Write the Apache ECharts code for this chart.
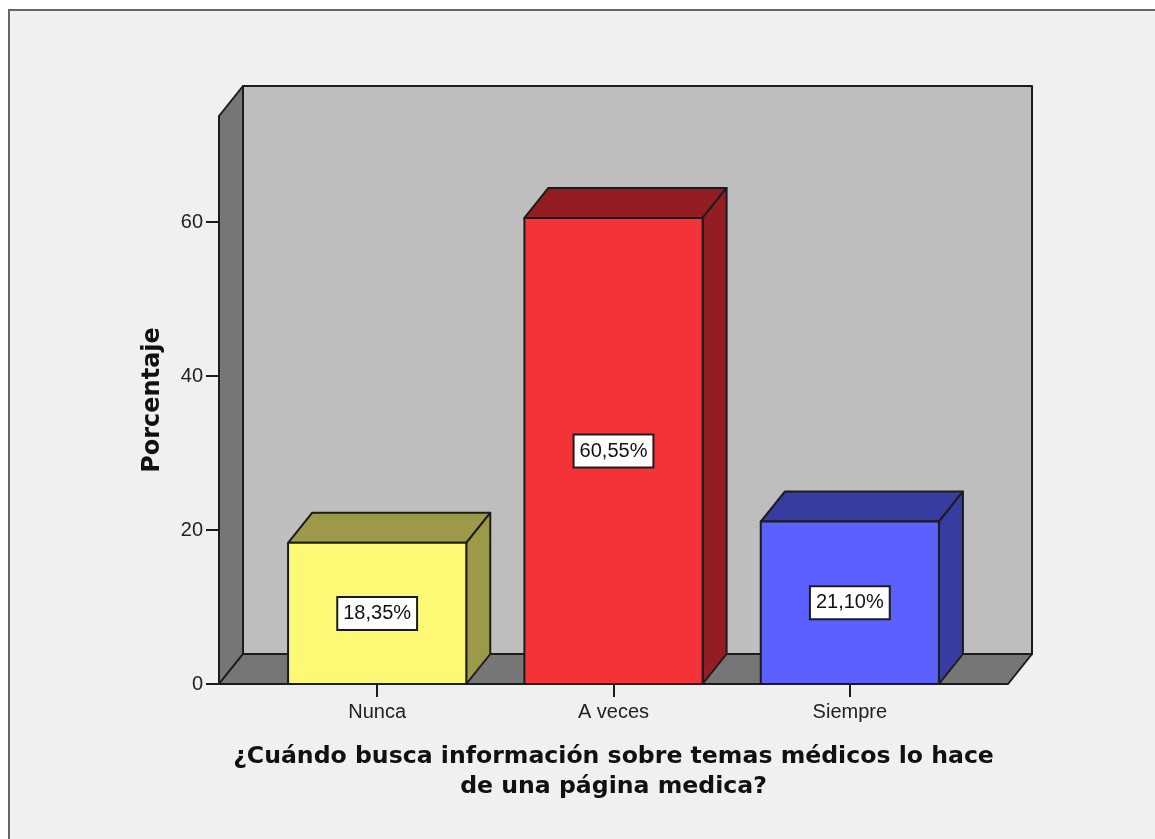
<!DOCTYPE html>
<html>
<head>
<meta charset="utf-8">
<title>Porcentaje</title>
<script src="https://cdn.jsdelivr.net/npm/echarts@6/dist/echarts.min.js"></script>
<style>
html, body { margin: 0; padding: 0; background: #fff; }
#main { width: 1155px; height: 839px; }
</style>
</head>
<body>
<div id="main"></div>
<script>
var categories = ['Nunca', 'A veces', 'Siempre'];
var percents = [18.35, 60.55, 21.10];
var yTicks = [0, 20, 40, 60];
var yTop = 73.8;

// front, dark (top and side)
var barColors = [
    ['#fdf975', '#9c9a48'],
    ['#f33338', '#931d23'],
    ['#5c60ff', '#383b9f']
];
var lineColor = '#1c1c1c';
var depthX = 24;
var depthY = 30;
var floorPad = 40;

var myChart = echarts.init(document.getElementById('main'));

function pct(v) {
    return v.toFixed(2).replace('.', ',') + '%';
}

function renderBackdrop(params, api) {
    var r = params.coordSys;
    var x0 = r.x - floorPad, x1 = r.x + r.width + floorPad;
    var y0 = r.y + r.height, yt = r.y;
    var st = {stroke: lineColor, lineWidth: 2, lineJoin: 'round'};
    return {
        type: 'group',
        children: [
            {type: 'rect', shape: {x: x0 + depthX, y: yt - depthY, width: x1 - x0, height: y0 - yt},
                style: Object.assign({fill: '#bebebe'}, st)},
            {type: 'polygon', shape: {points: [[x0, yt], [x0 + depthX, yt - depthY], [x0 + depthX, y0 - depthY], [x0, y0]]},
                style: Object.assign({fill: '#767676'}, st)},
            {type: 'polygon', shape: {points: [[x0, y0], [x0 + depthX, y0 - depthY], [x1 + depthX, y0 - depthY], [x1, y0]]},
                style: Object.assign({fill: '#767676'}, st)}
        ]
    };
}

function renderBar(params, api) {
    var i = params.dataIndex;
    var v = api.value(1);
    var top = api.coord([api.value(0), v]);
    var base = api.coord([api.value(0), 0]);
    var half = api.size([1, 0])[0] * 0.754 / 2;
    var l = top[0] - half, r = top[0] + half;
    var st = {stroke: lineColor, lineWidth: 2, lineJoin: 'round'};
    var c = barColors[i];
    return {
        type: 'group',
        children: [
            {type: 'polygon', shape: {points: [[l, top[1]], [l + depthX, top[1] - depthY], [r + depthX, top[1] - depthY], [r, top[1]]]},
                style: Object.assign({fill: c[1]}, st)},
            {type: 'polygon', shape: {points: [[r, top[1]], [r + depthX, top[1] - depthY], [r + depthX, base[1] - depthY], [r, base[1]]]},
                style: Object.assign({fill: c[1]}, st)},
            {type: 'rect', shape: {x: l, y: top[1], width: r - l, height: base[1] - top[1]},
                style: Object.assign({fill: c[0]}, st)},
            {type: 'text', z2: 10, style: {
                x: top[0], y: (top[1] + base[1]) / 2,
                text: pct(v), align: 'center', verticalAlign: 'middle',
                font: '20px "Liberation Sans"', fill: '#111',
                backgroundColor: '#fff', borderColor: lineColor, borderWidth: 2,
                padding: [7, 5, 4, 5]
            }}
        ]
    };
}

var option = {
    animation: false,
    textStyle: {fontFamily: 'Liberation Sans'},
    graphic: [{
        type: 'rect', z: -10, silent: true,
        shape: {x: 9, y: 10, width: 1200, height: 900},
        style: {fill: '#f0f0f0', stroke: '#666', lineWidth: 2}
    }],
    grid: {left: 259, right: 187, top: 116, bottom: 155},
    xAxis: {
        type: 'category',
        data: categories,
        axisLine: {show: false},
        axisTick: {show: true, alignWithLabel: true, length: 13, lineStyle: {color: lineColor, width: 2}},
        axisLabel: {color: '#222', fontSize: 20, margin: 18, interval: 0},
        name: '¿Cuándo busca información sobre temas médicos lo hace\nde una página medica?',
        nameLocation: 'middle',
        nameGap: 58,
        nameTextStyle: {color: '#111', fontSize: 23.6, fontWeight: 'bold', lineHeight: 30, fontFamily: 'DejaVu Sans', align: 'center'}
    },
    yAxis: {
        type: 'value',
        min: 0,
        max: yTop,
        offset: 40,
        splitLine: {show: false},
        axisLine: {show: false},
        axisTick: {show: true, length: 13, customValues: yTicks, lineStyle: {color: lineColor, width: 2}},
        axisLabel: {color: '#222', fontSize: 20, margin: 16, customValues: yTicks},
        name: 'Porcentaje',
        nameLocation: 'middle',
        nameGap: 54,
        nameTextStyle: {color: '#111', fontSize: 24, fontWeight: 'bold', fontFamily: 'DejaVu Sans'}
    },
    series: [
        {type: 'custom', renderItem: renderBackdrop, data: [[0, 0]], z: 1, silent: true, clip: false},
        {type: 'custom', renderItem: renderBar, encode: {x: 0, y: 1}, z: 3, silent: true, clip: false,
            data: categories.map(function (c, i) { return [i, percents[i]]; })}
    ]
};

myChart.setOption(option);
</script>
</body>
</html>
